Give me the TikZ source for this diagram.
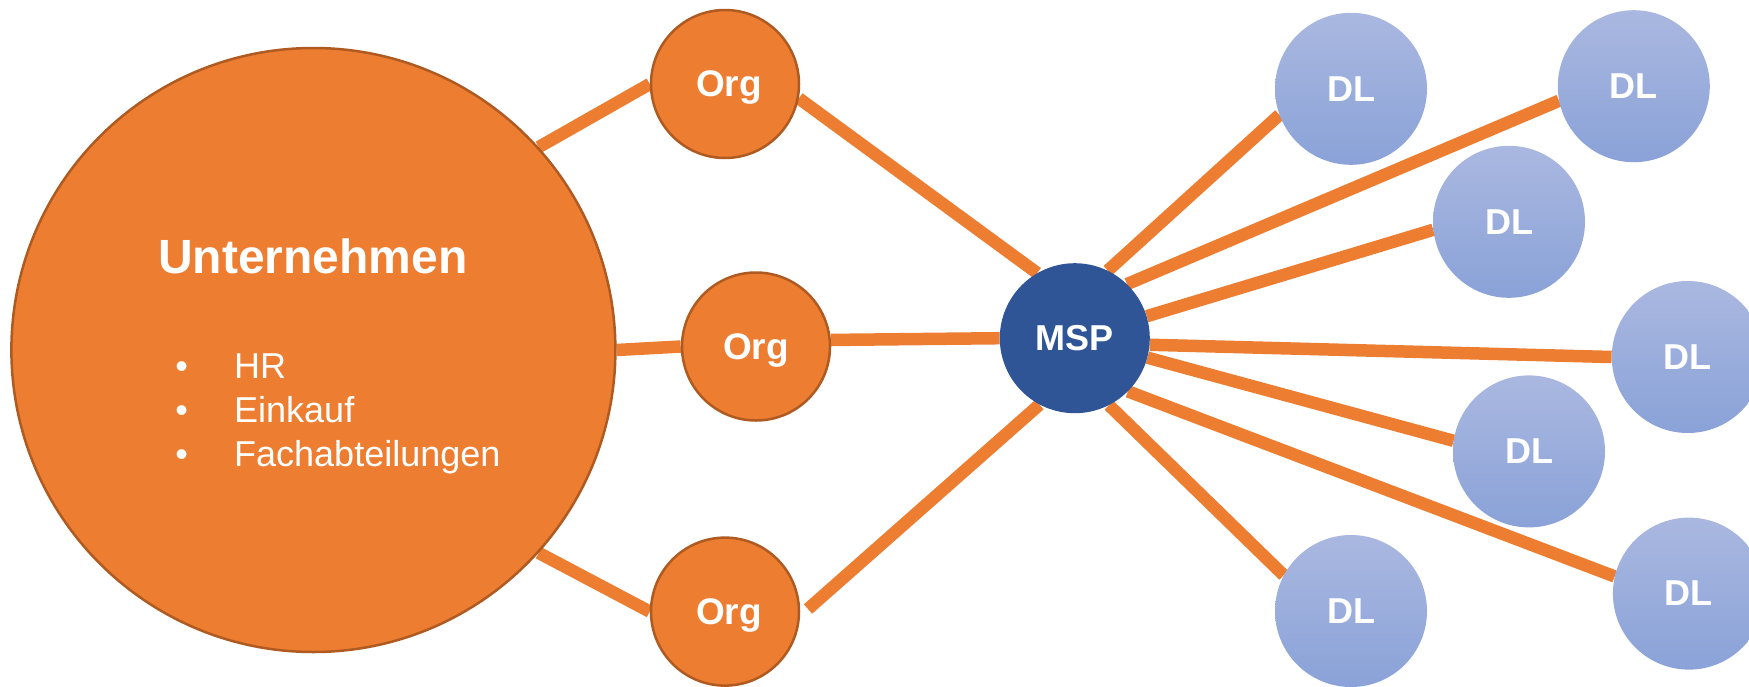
\documentclass[tikz,border=0pt]{standalone}
\usepackage{fontspec}
\setmainfont{Liberation Sans}
\usetikzlibrary{backgrounds}
\definecolor{orgfill}{HTML}{ED7D31}
\definecolor{orgline}{HTML}{AE5A21}
\definecolor{mspfill}{HTML}{2F5597}
\definecolor{dltop}{HTML}{AAB8E0}
\definecolor{dlbot}{HTML}{8AA2D8}
\tikzset{
  orgnode/.style={circle, fill=orgfill, draw=orgline, line width=2.5pt, minimum size=148pt, inner sep=0pt, text depth=0pt, text=white, font=\bfseries\fontsize{37}{40}\selectfont},
  bignode/.style={circle, fill=orgfill, draw=orgline, line width=2.5pt, minimum size=604pt, inner sep=0pt},
  mspnode/.style={circle, fill=mspfill, draw=none, minimum size=150pt, inner sep=0pt, text=white, font=\bfseries\fontsize{36}{40}\selectfont},
  dlnode/.style={circle, top color=dltop, bottom color=dlbot, draw=none, minimum size=152pt, inner sep=0pt, text=white, font=\bfseries\fontsize{36}{40}\selectfont},
  link/.style={draw=orgfill, line width=12.5pt},
  titletext/.style={text=white, inner sep=0pt, anchor=base, font=\bfseries\fontsize{48}{58}\selectfont},
  itemtext/.style={text=white, inner sep=0pt, anchor=base west, font=\fontsize{36}{44}\selectfont},
  bullettext/.style={text=white, inner sep=0pt, anchor=base, font=\fontsize{36}{44}\selectfont}
}
\begin{document}
\begin{tikzpicture}[x=1pt, y=-1pt]
\useasboundingbox (0,0) rectangle (1749,686);
\clip (0,0) rectangle (1749,686);
% nodes
\node[bignode] (U) at (313.4,350) {};
\node[titletext] (ut) at (313,273.3) {Unternehmen};
\node[bullettext] (k1) at (181.7,378.3) {•};
\node[bullettext] (k2) at (181.7,422.5) {•};
\node[bullettext] (k3) at (181.7,466.7) {•};
\node[itemtext] (i1) at (234,378.3) {HR};
\node[itemtext] (i2) at (234,422.5) {Einkauf};
\node[itemtext] (i3) at (234,466.7) {Fachabteilungen};

\node[orgnode] (O1) at (725,84) {\hspace*{8pt}Org};
\node[orgnode] (O2) at (756,346.5) {Org};
\node[orgnode] (O3) at (725,611.6) {\hspace*{8pt}Org};

\node[mspnode] (M) at (1074.8,338.2) {MSP};

\node[dlnode] (D1) at (1351,88.8) {DL};
\node[dlnode] (D2) at (1633.8,86.2) {DL};
\node[dlnode] (D3) at (1509,221.8) {DL};
\node[dlnode] (D4) at (1687.8,357) {DL};
\node[dlnode] (D5) at (1529,451.4) {DL};
\node[dlnode] (D6) at (1688.9,593.6) {DL};
\node[dlnode] (D7) at (1351,611) {DL};

\coordinate (o3end) at (808,609);

\begin{scope}[on background layer]
\draw[link] (U.42) -- (O1.west);
\draw[link] (U.east) -- (O2.west);
\draw[link] (U.-42) -- (O3.west);
\draw[link] (O1.-11) -- (M.120);
\draw[link] (O2.5) -- (M.west);
\draw[link] (M.-118) -- (o3end);
\draw[link] (M.64) -- (D1.-160);
\draw[link] (M.46) -- (D2.191);
\draw[link] (M.17) -- (D3.186);
\draw[link] (M.-5.6) -- (D4.west);
\draw[link] (M.-15.5) -- (D5.172.5);
\draw[link] (M.-45) -- (D6.167);
\draw[link] (M.-63.6) -- (D7.152.6);
\end{scope}
\end{tikzpicture}
\end{document}
